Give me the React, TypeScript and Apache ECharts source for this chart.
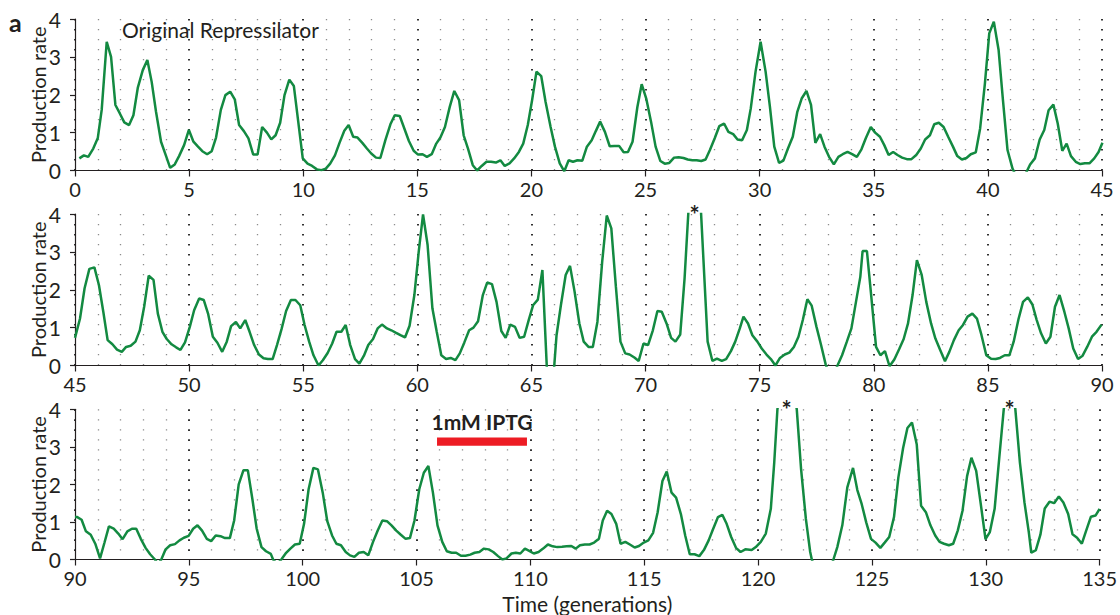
import React, { useEffect, useRef } from "react";
import * as echarts from "echarts";

// Time (generations) vs production rate, one array per panel
const panel1: [number, number][] = [
  [0.19,0.32],[0.39,0.4],[0.58,0.36],[0.8,0.58],[1.0,0.86],[1.17,1.6],[1.39,3.4],[1.58,3.0],[1.77,1.73],[1.97,1.5],
  [2.16,1.27],[2.37,1.2],[2.56,1.46],[2.75,2.18],[2.97,2.65],[3.17,2.92],[3.36,2.34],[3.55,1.55],[3.77,0.76],[3.98,0.4],
  [4.17,0.07],[4.37,0.16],[4.56,0.38],[4.78,0.67],[4.99,1.07],[5.19,0.76],[5.39,0.63],[5.58,0.51],[5.79,0.43],[5.99,0.51],
  [6.18,0.87],[6.39,1.6],[6.59,1.99],[6.8,2.08],[7.0,1.88],[7.19,1.2],[7.4,1.04],[7.6,0.85],[7.81,0.42],[8.0,0.42],
  [8.2,1.15],[8.41,1.0],[8.6,0.82],[8.79,0.93],[8.99,1.26],[9.18,1.99],[9.39,2.4],[9.59,2.23],[9.98,0.32],[10.19,0.18],
  [10.39,0.12],[10.6,0.03],[10.8,0.01],[10.99,0.05],[11.18,0.18],[11.39,0.4],[11.59,0.73],[11.8,1.05],[11.99,1.2],[12.19,0.89],
  [12.38,0.87],[12.59,0.73],[12.79,0.58],[12.98,0.45],[13.19,0.34],[13.38,0.33],[13.6,0.8],[13.82,1.22],[14.01,1.46],[14.23,1.44],
  [14.43,1.11],[14.63,0.78],[14.84,0.52],[15.03,0.42],[15.23,0.43],[15.42,0.36],[15.63,0.43],[15.83,0.71],[16.01,0.87],[16.21,1.15],
  [16.42,1.68],[16.62,2.1],[16.83,1.86],[17.03,0.93],[17.22,0.58],[17.43,0.14],[17.62,0.0],[17.82,0.12],[18.03,0.23],[18.23,0.23],
  [18.44,0.21],[18.64,0.27],[18.83,0.12],[19.04,0.19],[19.24,0.32],[19.45,0.49],[19.64,0.71],[19.84,1.2],[20.03,1.86],[20.22,2.61],
  [20.43,2.49],[20.62,1.81],[20.84,1.15],[21.03,0.63],[21.24,0.19],[21.44,-0.02],[21.63,0.27],[21.82,0.23],[22.02,0.27],[22.23,0.26],
  [22.43,0.63],[22.64,0.8],[22.82,1.04],[23.01,1.29],[23.22,1.02],[23.43,0.64],[23.63,0.65],[23.84,0.65],[24.04,0.48],[24.23,0.49],
  [24.43,0.76],[24.64,1.67],[24.83,2.28],[25.03,1.9],[25.24,1.29],[25.44,0.63],[25.65,0.25],[25.84,0.18],[26.04,0.2],[26.25,0.34],
  [26.45,0.35],[26.66,0.33],[26.85,0.29],[27.05,0.27],[27.24,0.27],[27.44,0.25],[27.63,0.29],[27.82,0.54],[28.03,0.85],[28.23,1.17],
  [28.44,1.24],[28.63,1.02],[28.84,0.96],[29.03,0.82],[29.23,0.8],[29.44,1.07],[29.61,1.64],[29.82,2.61],[30.04,3.4],[30.26,2.61],
  [30.45,1.68],[30.64,0.63],[30.85,0.2],[31.04,0.26],[31.24,0.58],[31.45,0.89],[31.65,1.55],[31.84,1.9],[32.05,2.1],[32.25,1.73],
  [32.44,0.73],[32.65,0.96],[32.84,0.63],[33.04,0.36],[33.25,0.16],[33.45,0.36],[33.64,0.43],[33.85,0.49],[34.05,0.43],[34.26,0.36],
  [34.46,0.56],[34.65,0.85],[34.87,1.15],[35.06,1.0],[35.27,0.89],[35.46,0.67],[35.65,0.41],[35.85,0.49],[36.04,0.41],[36.24,0.34],
  [36.45,0.3],[36.65,0.3],[36.86,0.41],[37.06,0.58],[37.25,0.82],[37.46,0.93],[37.65,1.22],[37.85,1.26],[38.06,1.15],[38.26,0.89],
  [38.47,0.63],[38.66,0.38],[38.86,0.29],[39.06,0.33],[39.25,0.43],[39.47,0.48],[39.66,1.11],[39.87,2.3],[40.06,3.62],[40.26,3.93],
  [40.47,3.18],[40.66,1.86],[40.86,0.54],[41.08,0.05],[41.42,-0.38],[41.85,0.16],[42.06,0.32],[42.27,0.82],[42.47,1.07],[42.66,1.59],
  [42.87,1.74],[43.06,1.24],[43.26,0.52],[43.45,0.71],[43.64,0.38],[43.85,0.23],[44.05,0.17],[44.25,0.19],[44.45,0.19],[44.66,0.32],
  [44.85,0.49],[45.02,0.73],
];

const panel2: [number, number][] = [
  [45.0,0.73],[45.22,1.24],[45.42,2.04],[45.63,2.55],[45.85,2.59],[46.05,2.12],[46.24,1.42],[46.43,0.67],[46.64,0.56],[46.84,0.42],
  [47.05,0.36],[47.24,0.49],[47.44,0.52],[47.65,0.63],[47.84,0.93],[48.03,1.55],[48.23,2.37],[48.44,2.26],[48.63,1.37],[48.83,0.89],
  [49.02,0.7],[49.23,0.56],[49.43,0.48],[49.62,0.41],[49.82,0.61],[50.03,1.02],[50.22,1.46],[50.44,1.77],[50.64,1.73],[50.83,1.37],
  [51.04,0.76],[51.24,0.6],[51.45,0.36],[51.65,0.63],[51.84,1.04],[52.05,1.15],[52.24,0.98],[52.46,1.2],[52.65,0.89],[52.85,0.54],
  [53.06,0.29],[53.26,0.19],[53.45,0.17],[53.66,0.17],[53.85,0.54],[54.05,0.96],[54.25,1.44],[54.46,1.73],[54.66,1.73],[54.87,1.59],
  [55.06,1.07],[55.26,0.63],[55.45,0.27],[55.67,0.0],[55.86,0.14],[56.07,0.33],[56.27,0.58],[56.46,0.89],[56.67,0.89],[56.86,1.07],
  [57.06,0.54],[57.27,0.17],[57.46,0.05],[57.66,0.26],[57.85,0.54],[58.06,0.7],[58.26,0.98],[58.45,1.08],[58.67,0.98],[58.86,0.93],
  [59.07,0.86],[59.26,0.8],[59.46,0.74],[59.66,1.05],[59.87,1.86],[60.06,3.0],[60.25,3.99],[60.45,3.18],[60.66,1.51],[60.85,0.89],
  [61.05,0.27],[61.26,0.17],[61.46,0.2],[61.67,0.14],[61.86,0.32],[62.06,0.61],[62.27,0.93],[62.46,1.0],[62.66,1.17],[62.87,1.86],
  [63.06,2.19],[63.27,2.15],[63.47,1.68],[63.68,0.91],[63.87,0.73],[64.07,1.08],[64.28,1.02],[64.48,0.73],[64.68,0.76],[64.88,1.2],
  [65.07,1.59],[65.28,1.74],[65.48,2.52],[65.7,-0.4],[65.95,-0.4],[66.1,0.8],[66.29,1.59],[66.5,2.39],[66.69,2.63],[66.89,1.95],
  [67.1,1.11],[67.29,0.63],[67.5,0.49],[67.69,0.49],[67.89,1.15],[68.1,2.74],[68.3,3.96],[68.5,3.62],[68.7,2.08],[68.9,0.63],
  [69.11,0.32],[69.3,0.29],[69.51,0.21],[69.7,0.12],[69.91,0.58],[70.11,0.54],[70.32,0.93],[70.52,1.44],[70.71,1.42],[70.92,1.11],
  [71.12,0.73],[71.31,0.63],[71.52,0.82],[71.71,2.3],[71.9,4.3],[72.15,5.0],[72.4,4.4],[72.72,0.63],[72.93,0.12],[73.13,0.18],
  [73.34,0.12],[73.53,0.17],[73.74,0.38],[73.93,0.63],[74.13,0.98],[74.29,1.29],[74.49,1.11],[74.68,0.8],[74.9,0.63],[75.09,0.45],
  [75.3,0.29],[75.49,0.17],[75.69,0.0],[75.89,0.2],[76.1,0.29],[76.3,0.34],[76.5,0.49],[76.7,0.76],[76.89,1.2],[77.09,1.75],
  [77.28,1.58],[77.49,1.02],[77.69,0.54],[77.9,0.01],[78.15,-0.35],[78.41,0.0],[78.61,0.27],[78.82,0.63],[79.02,0.98],[79.22,1.68],
  [79.41,2.34],[79.51,3.02],[79.7,3.02],[79.87,1.95],[80.1,0.49],[80.29,0.27],[80.49,0.38],[80.69,-0.02],[80.9,0.16],[81.11,0.43],
  [81.31,0.7],[81.5,1.11],[81.7,1.86],[81.89,2.78],[82.1,2.39],[82.3,1.68],[82.51,1.11],[82.7,0.71],[82.91,0.41],[83.12,0.11],
  [83.31,0.36],[83.51,0.67],[83.72,0.93],[83.91,1.07],[84.11,1.29],[84.32,1.37],[84.52,1.24],[84.72,0.8],[84.93,0.27],[85.14,0.18],
  [85.34,0.17],[85.53,0.2],[85.74,0.27],[85.94,0.27],[86.13,0.63],[86.34,1.22],[86.54,1.68],[86.75,1.8],[86.95,1.61],[87.14,1.2],
  [87.33,0.85],[87.54,0.58],[87.74,0.76],[87.94,1.55],[88.14,1.86],[88.35,1.42],[88.54,0.98],[88.74,0.45],[88.95,0.17],[89.15,0.26],
  [89.35,0.49],[89.56,0.76],[89.76,0.89],[89.98,1.08],
];

const panel3: [number, number][] = [
  [90.0,1.13],[90.1,1.13],[90.29,1.06],[90.48,0.75],[90.69,0.66],[90.89,0.42],[91.1,0.03],[91.29,0.44],[91.49,0.88],[91.7,0.82],
  [91.9,0.69],[92.09,0.54],[92.3,0.75],[92.5,0.82],[92.69,0.82],[92.89,0.55],[93.1,0.31],[93.3,0.14],[93.51,0.0],[93.65,-0.12],
  [93.79,0.0],[93.98,0.27],[94.18,0.38],[94.39,0.41],[94.59,0.51],[94.78,0.58],[94.99,0.63],[95.19,0.82],[95.38,0.91],[95.58,0.77],
  [95.79,0.55],[95.98,0.49],[96.18,0.64],[96.39,0.62],[96.59,0.57],[96.8,0.57],[96.99,1.04],[97.19,2.0],[97.4,2.38],[97.59,2.38],
  [97.79,1.61],[97.98,0.82],[98.19,0.33],[98.39,0.22],[98.6,0.15],[98.7,0.0],[98.88,-0.12],[99.06,0.0],[99.25,0.16],[99.46,0.29],
  [99.66,0.4],[99.87,0.42],[100.06,0.95],[100.26,1.87],[100.47,2.44],[100.67,2.4],[100.88,1.78],[101.08,1.02],[101.29,0.64],[101.48,0.42],
  [101.68,0.38],[101.89,0.2],[102.08,0.11],[102.27,0.07],[102.47,0.18],[102.68,0.2],[102.88,0.11],[103.09,0.47],[103.3,0.78],[103.5,1.04],
  [103.7,1.02],[103.9,0.91],[104.11,0.77],[104.31,0.66],[104.52,0.55],[104.71,0.57],[104.91,1.04],[105.12,1.87],[105.32,2.31],[105.52,2.49],
  [105.72,1.78],[105.92,0.91],[106.13,0.47],[106.33,0.22],[106.54,0.18],[106.74,0.18],[106.95,0.1],[107.15,0.1],[107.36,0.13],[107.55,0.18],
  [107.76,0.2],[107.96,0.29],[108.17,0.27],[108.37,0.2],[108.58,0.09],[108.77,0.0],[108.95,0.03],[109.17,0.16],[109.36,0.18],[109.56,0.16],
  [109.76,0.29],[109.95,0.23],[110.15,0.16],[110.36,0.2],[110.56,0.29],[110.77,0.4],[110.98,0.35],[111.18,0.33],[111.39,0.34],[111.59,0.35],
  [111.8,0.36],[111.99,0.29],[112.18,0.38],[112.39,0.4],[112.6,0.4],[112.8,0.45],[113.01,0.55],[113.18,1.04],[113.37,1.3],[113.56,1.21],
  [113.77,0.95],[113.96,0.42],[114.17,0.47],[114.37,0.4],[114.58,0.32],[114.77,0.36],[114.98,0.45],[115.18,0.51],[115.39,0.71],[115.59,1.26],
  [115.8,2.09],[115.99,2.34],[116.2,1.78],[116.4,1.65],[116.61,1.21],[116.8,0.64],[117.0,0.14],[117.21,0.14],[117.42,0.09],[117.62,0.25],
  [117.83,0.51],[118.03,0.82],[118.24,1.13],[118.43,1.19],[118.62,0.95],[118.82,0.6],[119.03,0.31],[119.23,0.2],[119.44,0.27],[119.72,0.25],
  [119.9,0.33],[120.12,0.47],[120.34,0.69],[120.56,1.35],[120.71,2.58],[120.85,4.0],[121.25,5.5],[121.7,4.0],[121.89,2.4],[122.1,1.08],
  [122.29,0.2],[122.36,0.0],[122.83,-0.76],[123.31,0.0],[123.48,0.33],[123.7,0.91],[123.92,1.92],[124.17,2.44],[124.36,1.85],[124.55,1.48],
  [124.75,0.99],[124.96,0.55],[125.16,0.45],[125.37,0.31],[125.56,0.45],[125.76,0.6],[125.97,1.13],[126.16,2.18],[126.37,2.97],[126.56,3.5],
  [126.76,3.65],[126.97,3.06],[127.16,1.43],[127.37,1.26],[127.57,0.91],[127.78,0.64],[127.97,0.47],[128.17,0.42],[128.38,0.38],[128.57,0.42],
  [128.77,0.77],[128.98,1.3],[129.18,2.22],[129.37,2.71],[129.58,2.36],[129.78,1.48],[129.99,0.54],[130.18,0.73],[130.39,1.35],[130.6,2.75],
  [130.79,4.0],[131.05,4.9],[131.3,4.0],[131.5,2.58],[131.7,1.52],[131.89,0.73],[132.0,0.18],[132.2,0.25],[132.4,0.66],[132.59,1.36],
  [132.8,1.54],[133.0,1.5],[133.21,1.68],[133.41,1.52],[133.62,1.21],[133.81,0.67],[134.01,0.58],[134.22,0.42],[134.41,0.77],[134.62,1.14],
  [134.82,1.17],[135.0,1.35],
];

const panelRanges: [number, number][] = [[0, 45], [45, 90], [90, 135]];
const clippedPeaks2 = [72.15];
const clippedPeaks3 = [121.25, 131.05];
const iptgSpan: [number, number] = [105.9, 109.85];
const iptgLevels: [number, number] = [3.03, 3.25];
const iptgLabel = "1mM IPTG";
const panelTitle = "Original Repressilator";
const yName = "Production rate";
const xName = "Time (generations)";

const FONT = "Lato";
const INK = "#231f20";
const GREEN = "#138a41";

export default function App() {
  const ref = useRef<HTMLDivElement>(null);
  useEffect(() => {
    if (!ref.current) return;
    const chart = echarts.init(ref.current, undefined, { renderer: "svg" });
    const tops = [19, 214, 409.3];
    const grids = tops.map((t) => ({ left: 75, width: 1027, top: t, height: 151.5 }));
    const xAxes = panelRanges.map(([mn, mx], i) => ({
      type: "value",
      gridIndex: i,
      min: mn,
      max: mx,
      interval: 5,
      axisLine: { show: true, onZero: false, lineStyle: { color: INK, width: 1.2 } },
      axisTick: { show: true, length: 6, lineStyle: { color: INK, width: 1.2 } },
      axisLabel: { fontFamily: FONT, fontSize: 20, lineHeight: 16, color: INK, margin: 10 },
      splitLine: { show: true, lineStyle: { color: "#000", width: 1.6, type: [1.6, 8.4] } },
      minorTick: { show: false, splitNumber: 5 },
      minorSplitLine: { show: true, lineStyle: { color: "#8c8c8c", width: 1.3, type: [1.3, 8.7] } },
      name: i === 2 ? xName : "",
      nameLocation: "middle",
      nameGap: 37,
      nameMoveOverlap: false,
      nameTextStyle: { fontFamily: FONT, fontSize: 21, lineHeight: 14, color: INK },
    }));
    const yAxes = panelRanges.map((_, i) => ({
      type: "value",
      gridIndex: i,
      min: 0,
      max: 4,
      interval: 1,
      axisLine: { show: true, lineStyle: { color: INK, width: 1.2 } },
      axisTick: { show: true, length: 5, lineStyle: { color: INK, width: 1.2 } },
      axisLabel: { fontFamily: FONT, fontSize: 21, color: INK, margin: 14 },
      splitLine: { show: false },
      name: yName,
      nameLocation: "middle",
      nameGap: 27,
      nameMoveOverlap: false,
      nameTextStyle: { fontFamily: FONT, fontSize: 20, lineHeight: 20, color: INK },
    }));
    const star = (xs: number[]) => ({
      silent: true,
      symbol: "circle",
      symbolSize: 1,
      itemStyle: { color: "rgba(0,0,0,0)" },
      label: {
        show: true,
        position: "inside",
        formatter: "*",
        fontFamily: FONT,
        fontSize: 24,
        fontWeight: "bold",
        color: INK,
      },
      data: xs.map((x) => ({ coord: [x, 4] })),
    });
    const data = [panel1, panel2, panel3];
    const series: any[] = data.map((d, i) => ({
      type: "line",
      xAxisIndex: i,
      yAxisIndex: i,
      data: d,
      showSymbol: false,
      clip: true,
      lineStyle: { color: GREEN, width: 2.5 },
      itemStyle: { color: GREEN },
    }));
    series[1].markPoint = star(clippedPeaks2);
    series[2].markPoint = star(clippedPeaks3);
    series[2].markArea = {
      silent: true,
      itemStyle: { color: "#ed1c24" },
      label: {
        show: true,
        position: "top",
        distance: 5,
        formatter: iptgLabel,
        fontFamily: FONT,
        fontSize: 21,
        fontWeight: "bold",
        color: INK,
      },
      data: [[{ coord: [iptgSpan[0], iptgLevels[1]] }, { coord: [iptgSpan[1], iptgLevels[0]] }]],
    };
    chart.setOption({
      animation: false,
      backgroundColor: "#fff",
      grid: grids,
      xAxis: xAxes,
      yAxis: yAxes,
      series,
      graphic: [
        {
          type: "text",
          x: 9,
          y: 22,
          style: { text: "a", fontFamily: FONT, fontSize: 25, fontWeight: "bold", fill: INK, verticalAlign: "middle" },
        },
        {
          type: "text",
          x: 122,
          y: 29,
          style: { text: panelTitle, fontFamily: FONT, fontSize: 21, fill: INK, verticalAlign: "middle" },
        },
      ],
    });
    return () => chart.dispose();
  }, []);
  return (
    <div
      ref={ref}
      style={{ position: "fixed", left: 0, top: 0, width: 1120, height: 615, background: "#fff" }}
    />
  );
}
